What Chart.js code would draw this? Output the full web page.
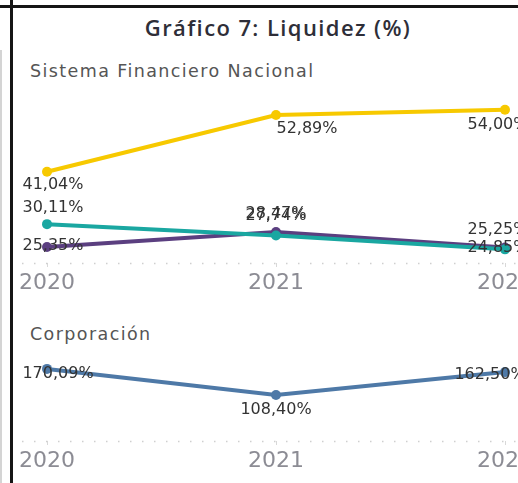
<!DOCTYPE html>
<html>
<head>
<meta charset="utf-8">
<script src="https://cdn.jsdelivr.net/npm/chart.js@4.4.1/dist/chart.umd.min.js"></script>
<style>
  html, body { margin: 0; padding: 0; background: #fff; }
  body { position: relative; width: 518px; height: 483px; overflow: hidden; font-family: "Open Sans", sans-serif; }
  .frame-h { position: absolute; left: 0; top: 5px; width: 518px; height: 3px; background: #151515; }
  .frame-v { position: absolute; left: 10px; top: 0; width: 3px; height: 483px; background: #151515; }
  .frame-g { position: absolute; left: 0; top: 50px; width: 2px; height: 433px; background: #d4d4d4; }
  #title { position: absolute; left: 13px; width: 530px; top: 12px; text-align: center; font-size: 22px; letter-spacing: 1.4px; font-weight: 600; color: #2e2e38; }
  .sub { position: absolute; left: 30px; font-family: "DejaVu Sans", sans-serif; font-size: 17.5px; letter-spacing: 1.4px; color: #555; }
  canvas { position: absolute; left: 0; }
</style>
</head>
<body>
<div class="frame-h"></div>
<div class="frame-v"></div>
<div class="frame-g"></div>
<div id="title">Gráfico 7: Liquidez (%)</div>
<div class="sub" style="top:61px">Sistema Financiero Nacional</div>
<div class="sub" style="top:324px">Corporación</div>
<canvas id="chartTop" width="560" height="300" style="top:0"></canvas>
<canvas id="chartBottom" width="560" height="183" style="top:300px"></canvas>

<script>
// data
const years = ["2020", "2021", "2022"];
const sfnYellow = [41.04, 52.89, 54.00];
const sfnTeal = [30.11, 27.74, 24.85];
const sfnPurple = [25.35, 28.47, 25.25];
const corporacion = [170.09, 108.40, 162.50];

// label placement (offset from the point, px)
const yellowOffsets = [[6, 13], [31, 14], [-7, 15]];
const tealOffsets = [[6, -16], [0, -20], [-7, -2]];
const purpleOffsets = [[6, -1], [0, -18], [-7, -18]];
const corpOffsets = [[11, 5], [0, 15], [-15, 3]];

const fmt = v => v.toFixed(2).replace(".", ",") + "%";

const pointLabels = {
  id: "pointLabels",
  afterDatasetsDraw(chart) {
    const ctx = chart.ctx;
    ctx.save();
    ctx.font = "16px 'DejaVu Sans'";
    ctx.fillStyle = "#333";
    ctx.textAlign = "center";
    ctx.textBaseline = "middle";
    chart.data.datasets.forEach((ds, i) => {
      const meta = chart.getDatasetMeta(i);
      meta.data.forEach((pt, j) => {
        const txt = fmt(ds.data[j]);
        const w = ctx.measureText(txt).width;
        const off = ds.labelOffsets[j];
        let x = pt.x + off[0];
        if (x - w / 2 < 22) x = 22 + w / 2;
        ctx.fillText(txt, x, pt.y + off[1]);
      });
    });
    ctx.restore();
  }
};

const dottedBase = {
  id: "dottedBase",
  beforeDatasetsDraw(chart) {
    const ctx = chart.ctx;
    const y = chart.chartArea.bottom + 0.5;
    ctx.save();
    ctx.strokeStyle = "#cfcfcf";
    ctx.lineWidth = 1.5;
    ctx.setLineDash([1.5, 10.5]);
    ctx.beginPath();
    ctx.moveTo(22, y);
    ctx.lineTo(chart.width, y);
    ctx.stroke();
    ctx.restore();
  }
};

function series(data, color, offsets) {
  return {
    data: data,
    borderColor: color,
    backgroundColor: color,
    pointBackgroundColor: color,
    pointBorderWidth: 0,
    pointRadius: 5,
    borderWidth: 4,
    tension: 0,
    clip: false,
    labelOffsets: offsets
  };
}

function options(min, max, padding) {
  return {
    responsive: false,
    animation: false,
    layout: { padding: padding },
    plugins: { legend: { display: false }, tooltip: { enabled: false } },
    scales: {
      x: {
        offset: false,
        border: { display: false },
        grid: { drawOnChartArea: false, tickLength: 4, color: "#d8d8d8" },
        ticks: { color: "#8c8c94", font: { family: "DejaVu Sans", size: 22 }, padding: 3, maxRotation: 0 },
        afterFit(scale) { scale.height = 34; }
      },
      y: { display: false, min: min, max: max }
    }
  };
}

new Chart(document.getElementById("chartTop"), {
  type: "line",
  data: {
    labels: years,
    datasets: [
      series(sfnYellow, "#f7c900", yellowOffsets),
      series(sfnTeal, "#1aa7a1", tealOffsets),
      series(sfnPurple, "#5b3f80", purpleOffsets)
    ]
  },
  options: options(22, 60, { left: 47, right: 55, top: 81, bottom: 3 }),
  plugins: [dottedBase, pointLabels]
});

new Chart(document.getElementById("chartBottom"), {
  type: "line",
  data: {
    labels: years,
    datasets: [series(corporacion, "#4e79a7", corpOffsets)]
  },
  options: options(0, 230, { left: 47, right: 55, top: 43.5, bottom: 8 }),
  plugins: [dottedBase, pointLabels]
});
</script>
</body>
</html>
